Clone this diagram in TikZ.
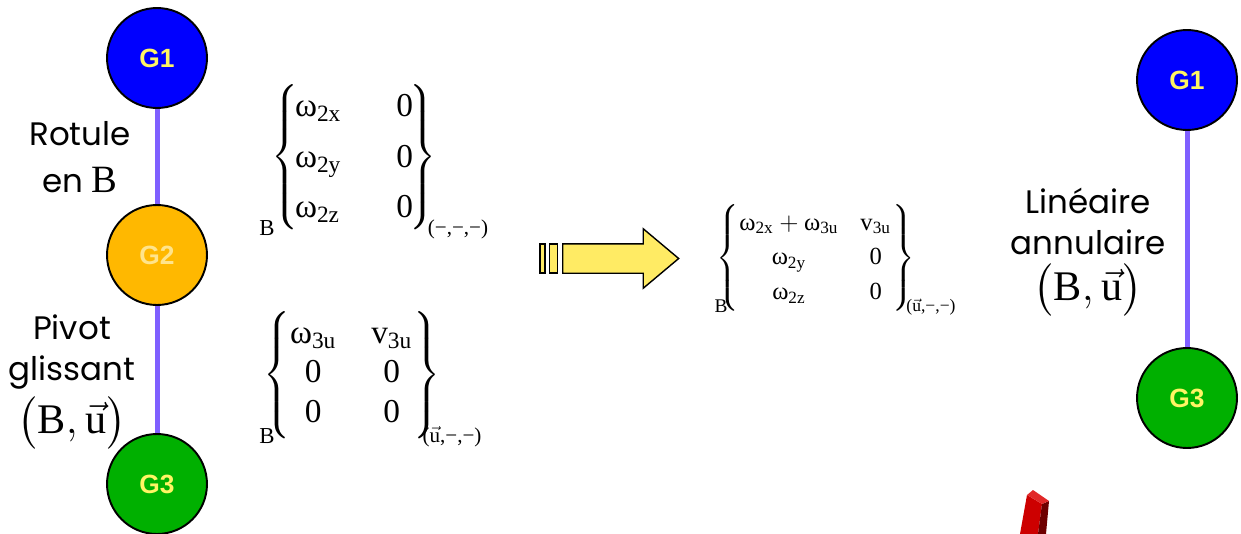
\documentclass[tikz,border=0pt]{standalone}
\usepackage{amsmath}
\usepackage{fontspec}
\setmainfont{Liberation Serif}
\newfontfamily\comicfont{Poppins}
\newfontfamily\gfont{Liberation Sans}
\usepackage{tikz}
\usetikzlibrary{positioning,shapes.arrows,calc}

\definecolor{gblue}{RGB}{0,0,255}
\definecolor{gorange}{RGB}{255,184,0}
\definecolor{ggreen}{RGB}{0,176,0}
\definecolor{glabel}{RGB}{255,245,100}
\definecolor{glabellight}{RGB}{255,228,140}
\definecolor{linkline}{RGB}{127,95,255}
\definecolor{arrowyellow}{RGB}{255,235,100}
\definecolor{barred}{RGB}{205,0,0}
\definecolor{bardark}{RGB}{110,0,0}
\definecolor{bartop}{RGB}{225,40,40}

\newcommand{\om}[1]{\text{ω}_{\text{#1}}}

\begin{document}
\begin{tikzpicture}[
    x=0.02cm, y=-0.02cm,
    piece/.style={
        circle,
        draw=black,
        line width=1.1pt,
        minimum size=2cm,
        inner sep=0pt,
        font=\gfont\bfseries\fontsize{15}{15}\selectfont,
        text=glabel
    },
    link/.style={draw=linkline, line width=0.1cm},
    liaison/.style={
        font=\comicfont\fontsize{18.5}{23.5}\selectfont,
        align=center,
        inner sep=0pt
    },
    torseur/.style={inner sep=0pt},
    base/.style={inner sep=0pt, font=\fontsize{13}{13}\selectfont},
    stripe/.style={draw=black, fill=arrowyellow, line width=0.7pt,
        inner sep=0pt, minimum height=0.58cm}
]
\useasboundingbox (0,0) rectangle (1241,534);

% left chain
\node[piece, fill=gblue] (g1) at (157,58) {G1};
\node[piece, fill=gorange, text=glabellight] (g2) at (157,255) {G2};
\node[piece, fill=ggreen] (g3) at (157,484) {G3};

\draw[link] (g1) -- (g2);
\draw[link] (g2) -- (g3);

\node[liaison, font=\comicfont\fontsize{18.5}{27}\selectfont] (rotule) at (80,157)
{Rotule\\en {\rmfamily\fontsize{22}{22}\selectfont B}};
\node[liaison] (pivot) at (72,382)
{Pivot\\glissant\\[3pt]
{\fontsize{24}{28}\selectfont$\bigl(\textrm{B},\vec{\textrm{u}}\bigr)$}};

% torseurs before
\node[torseur, font=\fontsize{19}{28.5}\selectfont] (t2) at (354,157)
{$\left\{\begin{array}{@{\hspace{-2pt}}l@{\hspace{1.1cm}}c@{\hspace{-2pt}}}
\om{2x} & \text{0}\\
\om{2y} & \text{0}\\
\om{2z} & \text{0}
\end{array}\right\}$};
\node[base] (b2) at (267,228) {B};
\node[base, font=\fontsize{12}{12}\selectfont] (r2) at (458,229) {(−,−,−)};

\node[torseur, font=\fontsize{19}{22.7}\selectfont] (t3) at (352,375)
{$\left\{\begin{array}{@{\hspace{0pt}}c@{\hspace{0.7cm}}c@{\hspace{1pt}}}
\om{3u} & \text{v}_{\text{3u}}\\
\text{0} & \text{0}\\
\text{0} & \text{0}
\end{array}\right\}$};
\node[base] (b3) at (267,436) {B};
\node[base, font=\fontsize{12}{12}\selectfont] (r3) at (452,437) {($\vec{\textrm{u}}$,−,−)};

% arrow
\node[stripe, minimum width=0.1cm] (s1) at (542.5,258.5) {};
\node[stripe, minimum width=0.17cm] (s2) at (553.5,258.5) {};
\node[single arrow, draw=black, fill=arrowyellow, line width=0.8pt,
    minimum height=2.32cm, single arrow head extend=0.3cm,
    single arrow tip angle=80, inner sep=0pt, anchor=tail]
    (fleche) at (562,258.5) {\rule{0pt}{0.56cm}};

% torseur after
\node[torseur, font=\fontsize{14}{19.9}\selectfont] (t23) at (816,258)
{$\left\{\begin{array}{@{\hspace{0pt}}c@{\hspace{0.44cm}}c@{\hspace{1pt}}}
\om{2x}+\om{3u} & \text{v}_{\text{3u}}\\
\om{2y} & \text{0}\\
\om{2z} & \text{0}
\end{array}\right\}$};
\node[base, font=\fontsize{11}{11}\selectfont] (b23) at (721,306) {B};
\node[base, font=\fontsize{10}{10}\selectfont] (r23) at (931,307) {($\vec{\textrm{u}}$,−,−)};

% right chain
\node[piece, fill=gblue] (h1) at (1187,80) {G1};
\node[piece, fill=ggreen] (h3) at (1187,398) {G3};
\draw[link] (h1) -- (h3);

\node[liaison] (lineaire) at (1088,252)
{Linéaire\\annulaire\\[3pt]
{\fontsize{24}{28}\selectfont$\bigl(\textrm{B},\vec{\textrm{u}}\bigr)$}};

% red bar (cut off)
\fill[barred] (1027,495) -- (1042,504) -- (1038,534) -- (1020,534) -- cycle;
\fill[bardark] (1042,504) -- (1049,501) -- (1046,534) -- (1038,534) -- cycle;
\fill[bartop] (1027,495) -- (1033,490) -- (1049,501) -- (1042,504) -- cycle;

\end{tikzpicture}
\end{document}
